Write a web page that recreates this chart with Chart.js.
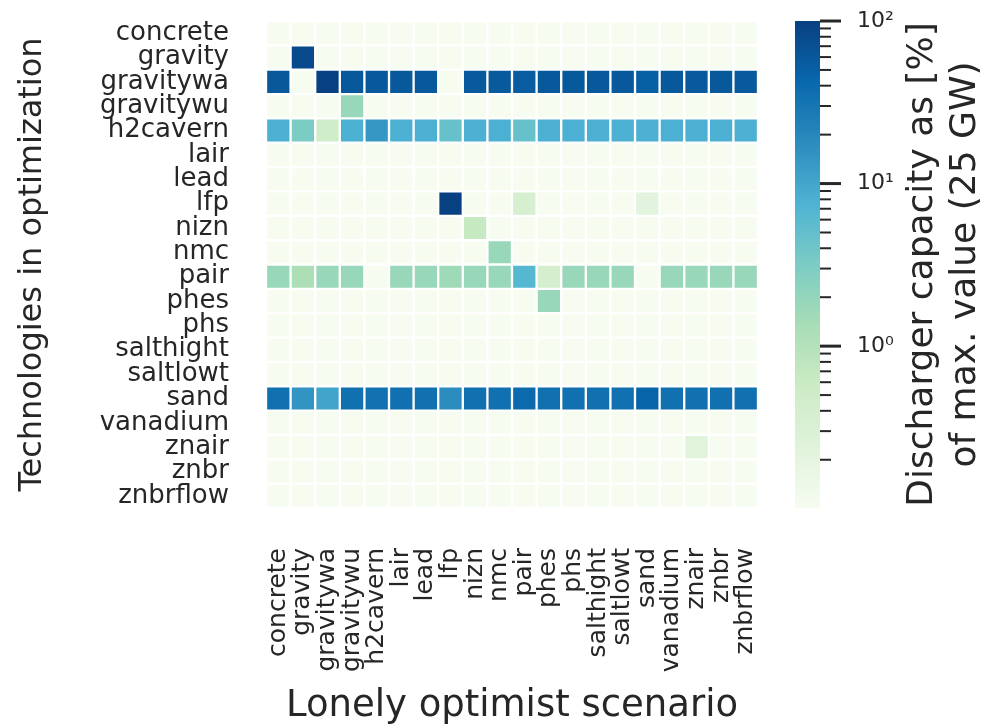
<!DOCTYPE html>
<html>
<head>
<meta charset="utf-8">
<title>Discharger capacity heatmap</title>
<script src="https://cdn.jsdelivr.net/npm/chart.js@4.4.1/dist/chart.umd.min.js"></script>
<style>
  html, body { margin: 0; padding: 0; background: #ffffff; }
  #wrap { position: relative; width: 989px; height: 727px; }
  #wrap canvas { position: absolute; left: 0; top: 0; }
</style>
</head>
<body>
<div id="wrap">
  <canvas id="heat" width="989" height="727"></canvas>
  <canvas id="scale" width="989" height="727"></canvas>
</div>
<script>
// Storage technologies (rows) and the scenario in which each one is the optimist pick (columns)
const technologies = ['concrete', 'gravity', 'gravitywa', 'gravitywu', 'h2cavern', 'lair', 'lead', 'lfp',
  'nizn', 'nmc', 'pair', 'phes', 'phs', 'salthight', 'saltlowt', 'sand', 'vanadium', 'znair', 'znbr', 'znbrflow'];
const scenarios = ['concrete', 'gravity', 'gravitywa', 'gravitywu', 'h2cavern', 'lair', 'lead', 'lfp',
  'nizn', 'nmc', 'pair', 'phes', 'phs', 'salthight', 'saltlowt', 'sand', 'vanadium', 'znair', 'znbr', 'znbrflow'];

// Discharger capacity, % of the maximum value (25 GW), one array per technology across the scenarios
const capConcrete  = [0.1, 0.1, 0.1, 0.1, 0.1, 0.1, 0.1, 0.1, 0.1, 0.1, 0.1, 0.1, 0.1, 0.1, 0.1, 0.1, 0.1, 0.1, 0.1, 0.1];
const capGravity   = [0.1, 80, 0.1, 0.1, 0.1, 0.1, 0.1, 0.1, 0.1, 0.1, 0.1, 0.1, 0.1, 0.1, 0.1, 0.1, 0.1, 0.1, 0.1, 0.1];
const capGravitywa = [60, 0.1, 98, 58, 58, 58, 58, 0.1, 57, 57, 55, 58, 58, 58, 58, 50, 58, 57, 58, 57];
const capGravitywu = [0.1, 0.1, 0.1, 1.8, 0.1, 0.1, 0.1, 0.1, 0.1, 0.1, 0.1, 0.1, 0.1, 0.1, 0.1, 0.1, 0.1, 0.1, 0.1, 0.1];
const capH2cavern  = [8, 3.2, 0.47, 8, 14, 8, 8, 4.7, 8, 8, 4.7, 8, 8, 8, 8, 8, 8, 8, 8, 8];
const capLair      = [0.1, 0.1, 0.1, 0.1, 0.1, 0.1, 0.1, 0.1, 0.1, 0.1, 0.1, 0.1, 0.1, 0.1, 0.1, 0.1, 0.1, 0.1, 0.1, 0.1];
const capLead      = [0.1, 0.1, 0.1, 0.1, 0.1, 0.1, 0.1, 0.1, 0.1, 0.1, 0.1, 0.1, 0.1, 0.1, 0.1, 0.1, 0.1, 0.1, 0.1, 0.1];
const capLfp       = [0.1, 0.1, 0.1, 0.1, 0.1, 0.1, 0.1, 98, 0.1, 0.1, 0.38, 0.1, 0.1, 0.1, 0.1, 0.22, 0.1, 0.1, 0.1, 0.1];
const capNizn      = [0.1, 0.1, 0.1, 0.1, 0.1, 0.1, 0.1, 0.1, 0.66, 0.1, 0.1, 0.1, 0.1, 0.1, 0.1, 0.1, 0.1, 0.1, 0.1, 0.1];
const capNmc       = [0.1, 0.1, 0.1, 0.1, 0.1, 0.1, 0.1, 0.1, 0.1, 1.8, 0.1, 0.1, 0.1, 0.1, 0.1, 0.1, 0.1, 0.1, 0.1, 0.1];
const capPair      = [1.8, 1.2, 1.8, 1.8, 0.1, 1.8, 1.8, 1.6, 1.8, 1.8, 6.5, 0.4, 1.8, 1.8, 1.8, 0.1, 1.8, 1.8, 1.8, 1.8];
const capPhes      = [0.1, 0.1, 0.1, 0.1, 0.1, 0.1, 0.1, 0.1, 0.1, 0.1, 0.1, 1.8, 0.1, 0.1, 0.1, 0.1, 0.1, 0.1, 0.1, 0.1];
const capPhs       = [0.1, 0.1, 0.1, 0.1, 0.1, 0.1, 0.1, 0.1, 0.1, 0.1, 0.1, 0.1, 0.1, 0.1, 0.1, 0.1, 0.1, 0.1, 0.1, 0.1];
const capSalthight = [0.1, 0.1, 0.1, 0.1, 0.1, 0.1, 0.1, 0.1, 0.1, 0.1, 0.1, 0.1, 0.1, 0.1, 0.1, 0.1, 0.1, 0.1, 0.1, 0.1];
const capSaltlowt  = [0.1, 0.1, 0.1, 0.1, 0.1, 0.1, 0.1, 0.1, 0.1, 0.1, 0.1, 0.1, 0.1, 0.1, 0.1, 0.1, 0.1, 0.1, 0.1, 0.1];
const capSand      = [35, 15, 10.5, 35, 33, 35, 35, 18, 35, 35, 40, 35, 35, 35, 35, 46, 35, 35, 35, 35];
const capVanadium  = [0.1, 0.1, 0.1, 0.1, 0.1, 0.1, 0.1, 0.1, 0.1, 0.1, 0.1, 0.1, 0.1, 0.1, 0.1, 0.1, 0.1, 0.1, 0.1, 0.1];
const capZnair     = [0.1, 0.1, 0.1, 0.1, 0.1, 0.1, 0.1, 0.1, 0.1, 0.1, 0.1, 0.1, 0.1, 0.1, 0.1, 0.1, 0.1, 0.24, 0.1, 0.1];
const capZnbr      = [0.1, 0.1, 0.1, 0.1, 0.1, 0.1, 0.1, 0.1, 0.1, 0.1, 0.1, 0.1, 0.1, 0.1, 0.1, 0.1, 0.1, 0.1, 0.1, 0.1];
const capZnbrflow  = [0.1, 0.1, 0.1, 0.1, 0.1, 0.1, 0.1, 0.1, 0.1, 0.1, 0.1, 0.1, 0.1, 0.1, 0.1, 0.1, 0.1, 0.1, 0.1, 0.1];

// Colour bar: log range and tick values
const colorbarMin = 0.101;
const colorbarMax = 100;
const colorbarTicks = [0.2, 0.3, 0.4, 0.5, 0.6, 0.7, 0.8, 0.9, 1, 2, 3, 4, 5, 6, 7, 8, 9,
  10, 20, 30, 40, 50, 60, 70, 80, 90, 100];
const colorbarMajor = [1, 10, 100];
const colorbarLabels = ['10\u2070', '10\u00b9', '10\u00b2'];
const colorbarTitle = ['Discharger capacity as [%]', 'of max. value (25 GW)'];

const capacity = [capConcrete, capGravity, capGravitywa, capGravitywu, capH2cavern, capLair, capLead,
  capLfp, capNizn, capNmc, capPair, capPhes, capPhs, capSalthight, capSaltlowt, capSand,
  capVanadium, capZnair, capZnbr, capZnbrflow];

// GnBu colour map anchors
const gnbu = ['#f7fcf0', '#e0f3db', '#ccebc5', '#a8ddb5', '#7bccc4', '#4eb3d3', '#2b8cbe', '#0868ac', '#084081'];
const TEXT = '#262626';
const FONT = "'DejaVu Sans', 'Liberation Sans', sans-serif";
Chart.defaults.font.family = FONT;
Chart.defaults.color = TEXT;

function hexToRgb(h) {
  return [parseInt(h.slice(1, 3), 16), parseInt(h.slice(3, 5), 16), parseInt(h.slice(5, 7), 16)];
}
function gnbuAt(t) {
  t = Math.max(0, Math.min(1, t));
  const p = t * (gnbu.length - 1);
  const k = Math.min(gnbu.length - 2, Math.floor(p));
  const f = p - k;
  const a = hexToRgb(gnbu[k]), b = hexToRgb(gnbu[k + 1]);
  const c = a.map((v, i) => Math.round(v + (b[i] - v) * f));
  return 'rgb(' + c.join(',') + ')';
}
function cellColour(v) {
  const lo = Math.log10(colorbarMin), hi = Math.log10(colorbarMax);
  return gnbuAt((Math.log10(v) - lo) / (hi - lo));
}
// keep tick labels from pushing the plot area inwards
function noScalePadding(scale) {
  scale.paddingTop = 0;
  scale.paddingBottom = 0;
  scale.paddingLeft = 0;
  scale.paddingRight = 0;
}

// ---- Heatmap: one floating-bar dataset per scenario column ----
const heatDatasets = scenarios.map((s, j) => ({
  label: s,
  data: technologies.map(() => [j, j + 1]),
  backgroundColor: technologies.map((t, i) => cellColour(capacity[i][j])),
  borderColor: '#ffffff',
  borderWidth: 1.5,
  borderSkipped: false,
  grouped: false,
  barPercentage: 1,
  categoryPercentage: 1
}));

new Chart(document.getElementById('heat'), {
  type: 'bar',
  data: { labels: technologies, datasets: heatDatasets },
  options: {
    indexAxis: 'y',
    responsive: false,
    animation: false,
    events: [],
    layout: { padding: { left: 0, top: 21, right: 231, bottom: 0 } },
    plugins: { legend: { display: false }, tooltip: { enabled: false } },
    scales: {
      x: {
        type: 'linear',
        position: 'bottom',
        min: 0,
        max: scenarios.length,
        afterBuildTicks: (scale) => { scale.ticks = scenarios.map((s, j) => ({ value: j + 0.5 })); },
        afterFit: (scale) => { scale.height = 219; noScalePadding(scale); },
        grid: { display: false, drawTicks: false },
        border: { display: false },
        ticks: {
          autoSkip: false,
          minRotation: 90,
          maxRotation: 90,
          padding: 40,
          color: TEXT,
          font: { size: 25 },
          callback: (v, idx) => scenarios[idx]
        },
        title: {
          display: true,
          text: 'Lonely optimist scenario',
          color: TEXT,
          font: { size: 37, lineHeight: 1.1 },
          padding: { top: 0, bottom: 0 }
        }
      },
      y: {
        type: 'category',
        position: 'left',
        afterFit: (scale) => { scale.width = 266; noScalePadding(scale); },
        grid: { display: false, drawTicks: false },
        border: { display: false },
        ticks: { autoSkip: false, padding: 37, color: TEXT, font: { size: 26 } },
        title: {
          display: true,
          text: 'Technologies in optimization',
          color: TEXT,
          font: { size: 32 },
          padding: { top: 13, bottom: 0 }
        }
      }
    }
  }
});

// ---- Colour bar ----
const colorbarTickMarks = {
  id: 'colorbarTickMarks',
  afterDraw(chart) {
    const s = chart.scales.y;
    const ctx = chart.ctx;
    ctx.save();
    ctx.strokeStyle = TEXT;
    s.ticks.forEach(t => {
      const y = s.getPixelForValue(t.value);
      const major = colorbarMajor.includes(t.value);
      ctx.lineWidth = major ? 3 : 2;
      ctx.beginPath();
      ctx.moveTo(s.left, y);
      ctx.lineTo(s.left + (major ? 21 : 11), y);
      ctx.stroke();
    });
    ctx.restore();
  }
};
const colorbarTitleText = {
  id: 'colorbarTitleText',
  afterDraw(chart) {
    const ctx = chart.ctx;
    const area = chart.chartArea;
    const cy = (area.top + area.bottom) / 2;
    const xs = [923, 966];
    ctx.save();
    ctx.fillStyle = TEXT;
    ctx.font = '36px ' + FONT;
    ctx.textAlign = 'center';
    ctx.textBaseline = 'middle';
    colorbarTitle.forEach((line, k) => {
      ctx.save();
      ctx.translate(xs[k], cy);
      ctx.rotate(-Math.PI / 2);
      ctx.fillText(line, 0, 0);
      ctx.restore();
    });
    ctx.restore();
  }
};

function colorbarFill(context) {
  const chart = context.chart;
  const area = chart.chartArea;
  if (!area) return gnbu[4];
  const g = chart.ctx.createLinearGradient(0, area.bottom, 0, area.top);
  gnbu.forEach((c, k) => g.addColorStop(k / (gnbu.length - 1), c));
  return g;
}

new Chart(document.getElementById('scale'), {
  type: 'bar',
  data: {
    labels: ['range'],
    datasets: [{
      data: [[colorbarMin, colorbarMax]],
      backgroundColor: colorbarFill,
      borderWidth: 0,
      barPercentage: 1,
      categoryPercentage: 1
    }]
  },
  options: {
    responsive: false,
    animation: false,
    events: [],
    layout: { padding: { left: 795, top: 21, right: 69, bottom: 219 } },
    plugins: { legend: { display: false }, tooltip: { enabled: false } },
    scales: {
      x: { display: false },
      y: {
        type: 'logarithmic',
        position: 'right',
        min: colorbarMin,
        max: colorbarMax,
        afterFit: (scale) => { scale.width = 100; noScalePadding(scale); },
        afterBuildTicks: (scale) => { scale.ticks = colorbarTicks.map(v => ({ value: v, major: colorbarMajor.includes(v) })); },
        grid: { display: false, drawTicks: false },
        border: { display: false },
        ticks: {
          autoSkip: false,
          padding: 37,
          color: TEXT,
          font: { size: 22 },
          callback: (v) => {
            const k = colorbarMajor.indexOf(v);
            return k >= 0 ? colorbarLabels[k] : '';
          }
        }
      }
    }
  },
  plugins: [colorbarTickMarks, colorbarTitleText]
});
</script>
</body>
</html>
